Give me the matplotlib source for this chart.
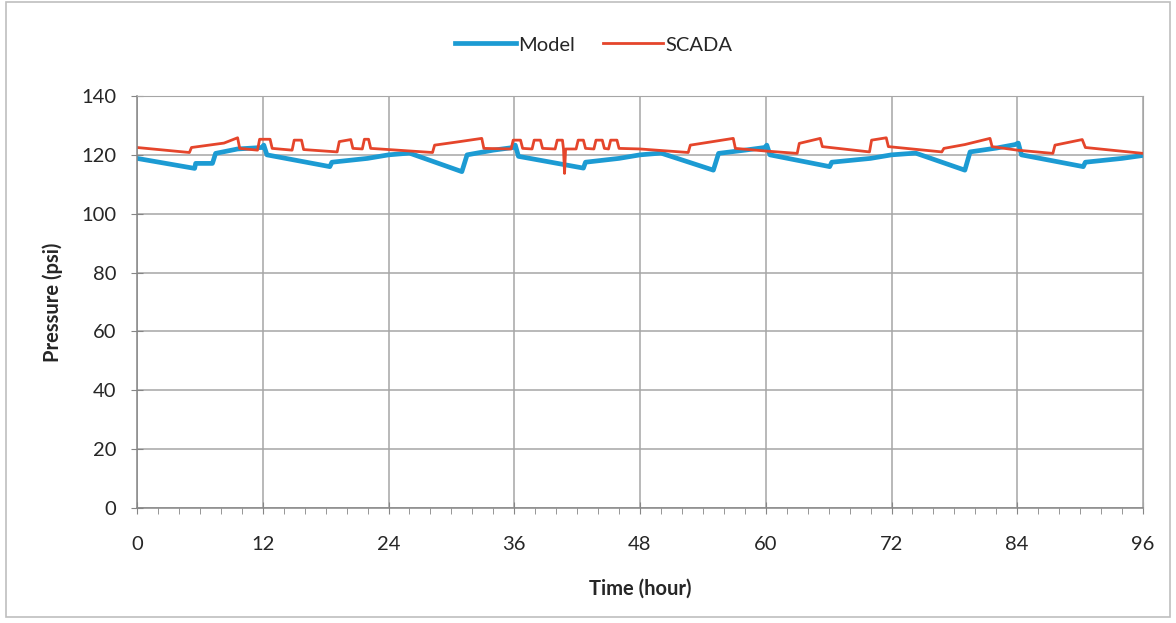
import matplotlib
matplotlib.use("Agg")
import matplotlib.pyplot as plt
from matplotlib.ticker import MultipleLocator
from matplotlib.patches import Rectangle

# ---- data ----
model_t = [0, 5.5, 5.6, 7.2, 7.5, 9.6, 11.9, 12.1, 12.4, 18.4, 18.6, 22, 24, 26, 31, 31.5,
           34, 35.9, 36.1, 36.4, 42.6, 42.8, 46, 48, 50, 55, 55.5, 58, 59.9, 60.1, 60.4,
           66.1, 66.3, 70, 72, 74.3, 79, 79.5, 82, 83.8, 84.1, 84.4, 90.3, 90.5, 94, 96]
model_p = [118.8, 115.4, 117.1, 117.1, 120.5, 122.0, 122.5, 123.3, 120.0, 116.0, 117.5, 118.8,
           120.0, 120.6, 114.3, 120.0, 121.6, 122.5, 123.3, 119.5, 115.5, 117.5, 118.8, 120.0,
           120.6, 114.8, 120.5, 121.6, 122.5, 123.3, 120.0, 116.0, 117.5, 118.8, 120.0, 120.6,
           114.8, 121.0, 122.3, 123.5, 124.0, 120.0, 116.0, 117.5, 118.8, 119.8]

scada_t = [0, 5.0, 5.2, 8.3, 9.6, 9.8, 11.5, 11.7, 12.7, 12.9, 14.8, 15.0, 15.7, 15.9, 19.1,
           19.3, 20.4, 20.6, 21.5, 21.7, 22.1, 22.3, 24, 28.2, 28.4, 30.6, 32.9, 33.1, 35.7,
           35.9, 36.6, 36.8, 37.7, 37.9, 38.5, 38.7, 39.9, 40.1, 40.6, 40.7, 40.8, 40.9, 41.9,
           42.1, 42.6, 42.8, 43.6, 43.8, 44.4, 44.6, 45.0, 45.2, 45.8, 46.0, 48, 52.6, 52.8,
           56.9, 57.1, 60, 63, 63.2, 65.2, 65.4, 69.9, 70.1, 71.5, 71.7, 76.8, 77.0, 79, 81.4,
           81.6, 84, 87.4, 87.6, 90.2, 90.5, 96]
scada_p = [122.5, 120.8, 122.5, 124.0, 125.8, 122.2, 121.6, 125.3, 125.3, 122.2, 121.6, 125.0,
           125.0, 121.8, 121.0, 124.5, 125.2, 122.2, 122.0, 125.3, 125.3, 122.2, 121.8, 120.8,
           123.3, 124.4, 125.6, 122.2, 122.0, 125.0, 125.0, 122.2, 122.0, 125.0, 125.0, 122.2,
           122.0, 125.0, 125.0, 122.0, 113.7, 122.0, 122.0, 125.0, 125.0, 122.2, 122.0, 125.0,
           125.0, 122.2, 122.0, 125.0, 125.0, 122.2, 122.0, 120.8, 123.3, 125.6, 122.2, 121.3,
           120.5, 123.9, 125.6, 122.8, 121.0, 125.0, 125.8, 122.8, 121.0, 122.2, 123.5, 125.6,
           122.8, 121.6, 120.5, 123.3, 125.2, 122.5, 120.5]

x_ticks = [0, 12, 24, 36, 48, 60, 72, 84, 96]
y_ticks = [0, 20, 40, 60, 80, 100, 120, 140]

plt.rcParams['font.family'] = ['Lato', 'DejaVu Sans']

W, H = 1176, 623
fig = plt.figure(figsize=(W / 100, H / 100), dpi=100)
fig.patches.append(Rectangle((6 / W, 1 - 617 / H), 1164 / W, 615 / H, transform=fig.transFigure,
                             fill=False, edgecolor='#BFBFBF', linewidth=1.2))

ax = fig.add_axes([137 / W, 1 - 508 / H, (1143 - 137) / W, (508 - 96) / H])
ax.plot(model_t, model_p, color='#1C9BD3', linewidth=3.4, label='Model', solid_joinstyle='round')
ax.plot(scada_t, scada_p, color='#E5452B', linewidth=2.0, label='SCADA')

ax.set_xlim(0, 96)
ax.set_ylim(0, 140)
ax.set_xticks(x_ticks)
ax.set_yticks(y_ticks)
ax.xaxis.set_minor_locator(MultipleLocator(2))
ax.grid(True, which='major', color='#A6A6A6', linewidth=1.1)
ax.set_axisbelow(True)
for s in ['top', 'right']:
    ax.spines[s].set_color('#A6A6A6')
for s in ['left', 'bottom']:
    ax.spines[s].set_color('#868686')
    ax.spines[s].set_linewidth(1.1)
ax.tick_params(axis='both', which='major', direction='inout', length=8, color='#868686',
               labelsize=14.5, labelcolor='#262626')
ax.tick_params(axis='y', which='major', pad=11)
ax.tick_params(axis='x', which='major', pad=16)
ax.tick_params(axis='x', which='minor', direction='out', length=4, color='#868686')
ax.set_xlabel('Time (hour)', fontsize=14.5, fontweight='bold', color='#262626', labelpad=19)
ax.set_ylabel('Pressure (psi)', fontsize=14.5, fontweight='bold', color='#262626', labelpad=13)

fig.legend(loc='center', bbox_to_anchor=(0.505, 1 - 45 / H), ncol=2, frameon=False,
           fontsize=14.5, handlelength=3.0, columnspacing=1.4, handletextpad=0.1,
           labelcolor='#262626')

fig.savefig('out.png', dpi=100)
